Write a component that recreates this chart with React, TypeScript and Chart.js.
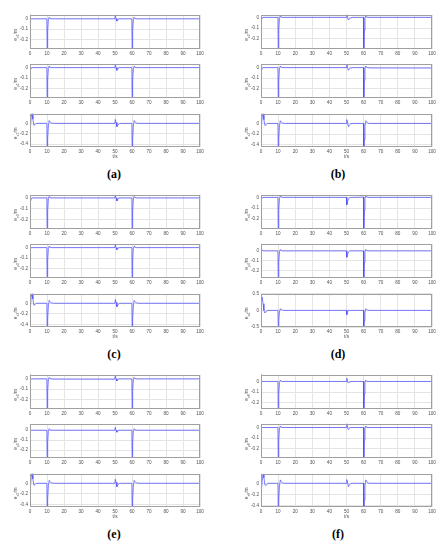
import React, { useEffect, useRef } from "react";
import { Chart, registerables } from "chart.js";
Chart.register(...registerables);

// ---------- data ----------
const timeS = [
  0, 0.3, 0.7, 1.2, 1.7, 2.3, 3, 4,
  9.9, 10.1, 10.4, 10.8, 11.3, 11.8, 12.5, 14,
  49.9, 50.2, 50.6, 51.1, 51.7, 52.5, 54,
  59.9, 60.1, 60.4, 60.8, 61.3, 61.8, 62.5, 64,
  100,
];

const ex1 = [0.04, 0, 0, 0, 0, 0, 0, 0,
  0, -0.35, -0.12, -0.01, 0.015, 0.004, 0, 0,
  0, 0.04, 0.0, -0.022, -0.006, 0, 0,
  0, -0.35, -0.12, -0.01, 0.015, 0.004, 0, 0,
  0];
const ey1 = [-0.07, -0.02, -0.005, 0, 0, 0, 0, 0,
  0, -0.35, -0.12, -0.01, 0.015, 0.004, 0, 0,
  0, 0.035, 0.0, -0.025, -0.008, 0, 0,
  0, -0.35, -0.12, -0.01, 0.015, 0.004, 0, 0,
  0];
const ez1 = [-0.22, -0.05, 0.12, 0.2, 0.08, -0.04, -0.02, 0,
  0, -0.48, -0.3, -0.05, 0.055, 0.03, 0.005, 0,
  0, 0.075, 0.02, -0.065, -0.03, -0.005, 0,
  0, -0.48, -0.3, -0.05, 0.055, 0.03, 0.005, 0,
  0];

const ex2 = [-0.05, -0.02, -0.006, 0, 0, 0, 0, 0,
  0, -0.35, -0.12, -0.01, 0.015, 0.004, 0, 0,
  0, 0.03, 0.0, -0.025, -0.012, -0.004, 0,
  0, -0.35, -0.12, -0.01, 0.015, 0.004, 0, 0,
  0];
const ey2 = [-0.07, -0.025, -0.008, 0, 0, 0, 0, 0,
  0, -0.35, -0.12, -0.01, 0.015, 0.004, 0, 0,
  0, 0.035, 0.0, -0.025, -0.01, -0.003, 0,
  0, -0.35, -0.12, -0.01, 0.015, 0.004, 0, -0.003,
  -0.004];
const ez2 = [-0.22, -0.04, 0.13, 0.19, 0.07, -0.04, -0.02, 0,
  0, -0.48, -0.3, -0.05, 0.05, 0.03, 0.005, 0,
  0, 0.07, 0.02, -0.06, -0.03, -0.005, 0,
  0, -0.48, -0.3, -0.05, 0.05, 0.03, 0.005, 0,
  0];

const ex3 = [-0.08, -0.03, -0.01, 0, 0, 0, 0, 0,
  0, -0.35, -0.12, -0.01, 0.015, 0.004, 0, 0,
  0, 0.03, 0.0, -0.028, -0.01, 0, 0,
  0, -0.35, -0.12, -0.01, 0.015, 0.004, 0, 0,
  0];
const ey3 = [0.01, 0.005, 0, 0, 0, 0, 0, 0,
  0, -0.35, -0.12, -0.01, 0.015, 0.004, 0, 0,
  0, 0.03, 0.0, -0.02, -0.006, 0, 0,
  0, -0.35, -0.12, -0.01, 0.015, 0.004, 0, 0,
  0];
const ez3 = [-0.21, -0.05, 0.12, 0.2, 0.08, -0.04, -0.02, 0,
  0, -0.48, -0.3, -0.05, 0.055, 0.03, 0.005, 0,
  0, 0.07, 0.02, -0.065, -0.03, -0.005, 0,
  0, -0.48, -0.3, -0.05, 0.055, 0.03, 0.005, 0,
  0];

const ex4 = [-0.045, -0.015, -0.004, 0, 0, 0, 0, 0,
  0, -0.35, -0.12, -0.01, 0.015, 0.004, 0, 0,
  0, -0.07, -0.04, -0.015, -0.004, 0, 0,
  0.003, -0.35, -0.12, -0.01, 0.015, 0.004, 0, 0,
  0];
const ey4 = [0.06, 0.02, 0.005, 0, 0, 0, 0, 0,
  0, -0.35, -0.12, -0.01, 0.015, 0.004, 0, 0,
  0, -0.065, -0.035, -0.012, -0.003, 0, 0,
  0, -0.35, -0.12, -0.01, 0.015, 0.004, 0, 0,
  0];
const ez4 = [-0.05, 0.3, 0.4, 0.2, 0.0, -0.08, -0.03, 0,
  0, -0.48, -0.3, -0.05, 0.05, 0.03, 0.005, 0,
  0, -0.13, -0.06, 0.01, 0.0, 0, 0,
  0, -0.48, -0.3, -0.05, 0.05, 0.03, 0.005, 0,
  0];

const ex5 = [0.045, 0, 0, 0, 0, 0, 0, 0,
  0, -0.35, -0.12, -0.01, 0.015, 0.004, 0, -0.002,
  -0.003, 0.04, 0.0, -0.02, -0.006, 0, 0,
  0, -0.35, -0.12, -0.01, 0.015, 0.004, 0, 0,
  0];
const ey5 = [0.06, 0.005, 0, 0, 0, 0, 0, 0,
  0, -0.35, -0.12, -0.01, 0.015, 0.004, 0, 0,
  0, 0.03, 0.0, -0.02, -0.006, 0, 0,
  0, -0.35, -0.12, -0.01, 0.015, 0.004, 0, 0,
  0];
const ez5 = [-0.22, -0.05, 0.12, 0.2, 0.08, -0.04, -0.02, 0,
  0, -0.48, -0.3, -0.05, 0.055, 0.03, 0.005, 0,
  0, 0.075, 0.02, -0.065, -0.03, -0.005, 0,
  0, -0.48, -0.3, -0.05, 0.055, 0.03, 0.005, 0,
  0];

const ex6 = [0.07, 0.005, 0, 0, 0, 0, 0, 0,
  0, -0.35, -0.12, -0.01, 0.012, 0.003, 0, 0,
  0, 0.03, 0.0, -0.015, -0.005, 0, 0,
  0, -0.35, -0.12, -0.01, 0.012, 0.003, 0, 0,
  0];
const ey6 = [0.005, 0, 0, 0, 0, 0, 0, 0,
  0, -0.35, -0.12, -0.01, 0.015, 0.004, 0, 0,
  0, 0.04, 0.0, -0.02, -0.006, 0, 0,
  0, -0.35, -0.12, -0.01, 0.015, 0.004, 0, 0,
  0];
const ez6 = [-0.2, -0.1, 0.05, 0.17, 0.1, -0.03, -0.04, 0,
  0, -0.48, -0.3, -0.05, 0.06, 0.03, 0.005, 0,
  0, 0.065, 0.02, -0.06, -0.03, -0.005, 0,
  0, -0.48, -0.3, -0.05, 0.06, 0.03, 0.005, 0,
  0];

const xTicks = [0, 10, 20, 30, 40, 50, 60, 70, 80, 90, 100];
const xyTicks = [0, -0.1, -0.2];
const zTicks = [0, -0.2, -0.4];
const zTicksWide = [0.5, 0, -0.5];

const captions = ["(a)", "(b)", "(c)", "(d)", "(e)", "(f)"];
const axisNames = ["x", "y", "z"];

// panel i: [x, y, z] series and y-ranges
const panelSeries = [
  [ex1, ey1, ez1],
  [ex2, ey2, ez2],
  [ex3, ey3, ez3],
  [ex4, ey4, ez4],
  [ex5, ey5, ez5],
  [ex6, ey6, ez6],
];
const panelRanges = [
  [[-0.295, 0.04], [-0.29, 0.037], [-0.455, 0.185]],
  [[-0.293, 0.024], [-0.29, 0.037], [-0.44, 0.18]],
  [[-0.29, 0.03], [-0.29, 0.037], [-0.45, 0.18]],
  [[-0.292, 0.024], [-0.277, 0.073], [-0.5, 0.5]],
  [[-0.295, 0.041], [-0.28, 0.065], [-0.45, 0.18]],
  [[-0.26, 0.063], [-0.29, 0.036], [-0.425, 0.17]],
];

// ---------- layout / style ----------
const COL_LEFT = [30, 261];
const COL_W = [170, 171];
const ROW_TOP = [0, 180, 360];
const SUB_TOP = [14, 63, 113];
const SUB_H = [35, 35, 34];
const CAP_X = [114, 338];
const CAP_Y = [174, 354, 534];
const ML = 28, MR = 6, MT = 4;
const LINE = "rgb(70,70,255)";
const GRID = "#e4e4e4";
const BOX = "#a0a0a0";
const TXT = "#505050";
const FONT = "Liberation Sans";

type SubCfg = {
  key: string;
  name: string;
  idx: string;
  values: number[];
  yMin: number;
  yMax: number;
  yTicks: number[];
  left: number;
  top: number;
  w: number;
  h: number;
  last: boolean;
};

function SubPlot({ cfg }: { cfg: SubCfg }) {
  const ref = useRef<HTMLCanvasElement>(null);
  const xh = cfg.last ? 20 : 10;
  const cw = cfg.w + ML + MR;
  const ch = cfg.h + MT + xh;
  useEffect(() => {
    const deco = {
      id: "deco",
      afterDraw(chart: any) {
        const ctx = chart.ctx;
        const a = chart.chartArea;
        ctx.save();
        ctx.strokeStyle = BOX;
        ctx.lineWidth = 1;
        ctx.strokeRect(Math.round(a.left) + 0.5, Math.round(a.top) + 0.5,
          Math.round(a.right - a.left) - 1, Math.round(a.bottom - a.top) - 1);
        // y label e_{name idx}/m
        const cy = (a.top + a.bottom) / 2 + 3;
        ctx.translate(a.left - 14, cy);
        ctx.rotate(-Math.PI / 2);
        ctx.fillStyle = TXT;
        ctx.textBaseline = "middle";
        ctx.textAlign = "left";
        const big = `4.8px ${FONT}`;
        const small = `3.6px ${FONT}`;
        ctx.font = big;
        const we = ctx.measureText("e").width;
        const wm = ctx.measureText("/m").width;
        ctx.font = small;
        const sub = cfg.name + cfg.idx;
        const ws = ctx.measureText(sub).width;
        let x0 = -(we + ws + wm) / 2;
        ctx.font = big;
        ctx.fillText("e", x0, 0);
        ctx.font = small;
        ctx.fillText(sub, x0 + we, 1.6);
        ctx.font = big;
        ctx.fillText("/m", x0 + we + ws, -0.6);
        ctx.restore();
        if (cfg.last) {
          ctx.save();
          ctx.fillStyle = TXT;
          ctx.font = `4.8px ${FONT}`;
          ctx.textAlign = "center";
          ctx.textBaseline = "middle";
          ctx.fillText("t/s", (a.left + a.right) / 2, a.bottom + 10);
          ctx.restore();
        }
      },
    };
    const tickFont = { family: FONT, size: 4.6 };
    const chart = new Chart(ref.current!, {
      type: "line",
      data: {
        datasets: [
          {
            data: timeS.map((t, i) => ({ x: t, y: cfg.values[i] })),
            borderColor: LINE,
            borderWidth: 0.7,
            pointRadius: 0,
            tension: 0,
            fill: false,
          },
        ],
      },
      options: {
        animation: false,
        responsive: false,
        maintainAspectRatio: false,
        events: [],
        layout: { padding: { left: 0, top: MT, right: MR, bottom: 0 } },
        plugins: { legend: { display: false }, tooltip: { enabled: false } },
        scales: {
          x: {
            type: "linear",
            min: 0,
            max: 100,
            afterBuildTicks: (s: any) => {
              s.ticks = xTicks.map((v) => ({ value: v }));
            },
            afterFit: (s: any) => {
              s.height = xh;
            },
            grid: { color: GRID, drawTicks: false, lineWidth: 1 },
            border: { display: false },
            ticks: {
              font: tickFont,
              color: TXT,
              padding: 2,
              maxRotation: 0,
              autoSkip: false,
              callback: (v: any) => String(Number(v)),
            },
          },
          y: {
            type: "linear",
            min: cfg.yMin,
            max: cfg.yMax,
            afterBuildTicks: (s: any) => {
              s.ticks = cfg.yTicks.map((v) => ({ value: v }));
            },
            afterFit: (s: any) => {
              s.width = ML;
            },
            grid: { color: GRID, drawTicks: false, lineWidth: 1 },
            border: { display: false },
            ticks: {
              font: tickFont,
              color: TXT,
              padding: 2,
              autoSkip: false,
              callback: (v: any) => String(Number(v)),
            },
          },
        },
      } as any,
      plugins: [deco],
    });
    return () => chart.destroy();
  }, []);
  return (
    <canvas
      ref={ref}
      width={cw}
      height={ch}
      style={{
        position: "absolute",
        left: cfg.left - ML,
        top: cfg.top - MT,
        width: cw,
        height: ch,
      }}
    />
  );
}

export default function App() {
  const subs: SubCfg[] = [];
  panelSeries.forEach((series, p) => {
    const col = p % 2;
    const row = Math.floor(p / 2);
    series.forEach((vals, k) => {
      const r = panelRanges[p][k];
      const wide = r[1] >= 0.5;
      subs.push({
        key: `${p}-${k}`,
        name: axisNames[k],
        idx: String(p + 1),
        values: vals,
        yMin: r[0],
        yMax: r[1],
        yTicks: k < 2 ? xyTicks : wide ? zTicksWide : zTicks,
        left: COL_LEFT[col],
        top: ROW_TOP[row] + SUB_TOP[k],
        w: COL_W[col],
        h: SUB_H[k],
        last: k === 2,
      });
    });
  });
  return (
    <div
      style={{
        position: "absolute",
        left: 0,
        top: 0,
        width: 444,
        height: 550,
        background: "#fff",
        overflow: "hidden",
      }}
    >
      {subs.map((s) => (
        <SubPlot key={s.key} cfg={s} />
      ))}
      {captions.map((c, p) => (
        <div
          key={c}
          style={{
            position: "absolute",
            left: CAP_X[p % 2] - 20,
            top: CAP_Y[Math.floor(p / 2)] - 7,
            width: 40,
            textAlign: "center",
            fontFamily: "Liberation Serif",
            fontWeight: "bold",
            fontSize: 12,
            lineHeight: "14px",
            color: "#000",
          }}
        >
          {c}
        </div>
      ))}
    </div>
  );
}
